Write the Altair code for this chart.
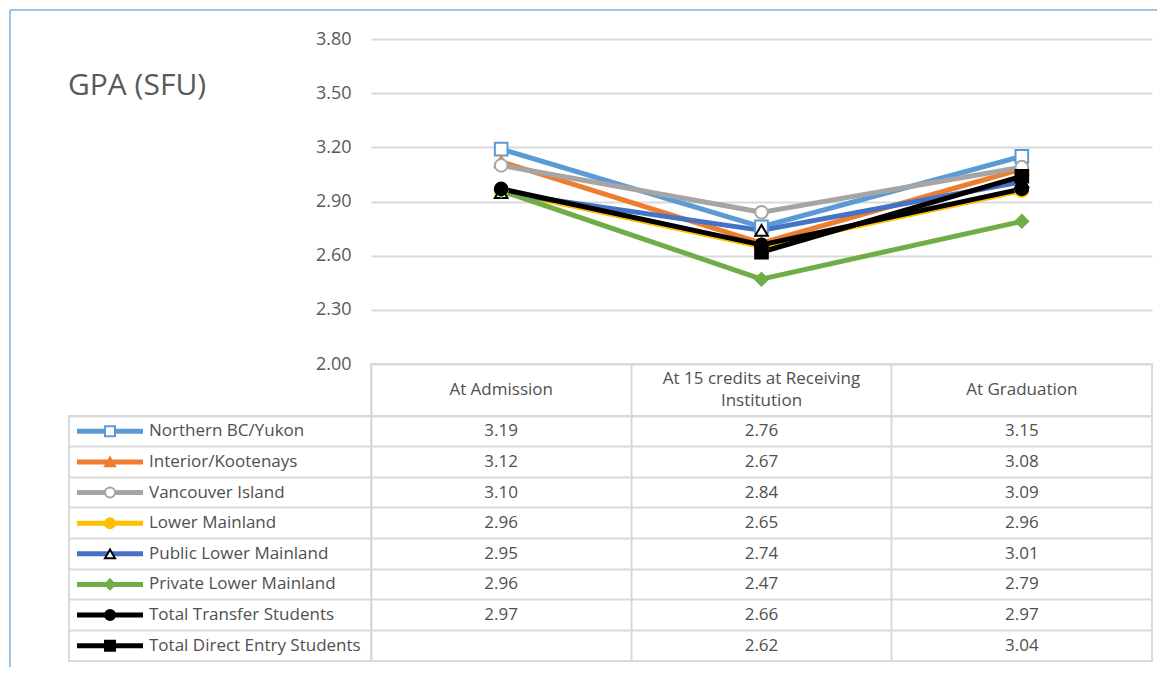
import altair as alt
import pandas as pd

# ---- data ----
categories = ["At Admission", "At 15 credits at Receiving Institution", "At Graduation"]
header_labels = ["At Admission", "At 15 credits at Receiving\nInstitution", "At Graduation"]
header_lines = [1, 2, 1]
series = [
    "Northern BC/Yukon",
    "Interior/Kootenays",
    "Vancouver Island",
    "Lower Mainland",
    "Public Lower Mainland",
    "Private Lower Mainland",
    "Total Transfer Students",
    "Total Direct Entry Students",
]
northern = [3.19, 2.76, 3.15]
interior = [3.12, 2.67, 3.08]
vancouver_island = [3.10, 2.84, 3.09]
lower_mainland = [2.96, 2.65, 2.96]
public_lm = [2.95, 2.74, 3.01]
private_lm = [2.96, 2.47, 2.79]
total_transfer = [2.97, 2.66, 2.97]
total_direct = [None, 2.62, 3.04]
values = [northern, interior, vancouver_island, lower_mainland, public_lm,
          private_lm, total_transfer, total_direct]

line_colors = ["#5B9BD5", "#ED7D31", "#A5A5A5", "#FFC000", "#4472C4", "#70AD47", "#000000", "#000000"]
marker_fill = ["#FFFFFF", "#ED7D31", "#FFFFFF", "#FFC000", "#FFFFFF", "#70AD47", "#000000", "#000000"]
marker_stroke = ["#5B9BD5", "#ED7D31", "#A5A5A5", "#FFC000", "#000000", "#70AD47", "#000000", "#000000"]
marker_shape = ["square", "triangle-up", "circle", "circle", "triangle-up", "diamond", "circle", "square"]

rows = []
for si, s in enumerate(series):
    for ci, c in enumerate(categories):
        v = values[si][ci]
        rows.append({"series": s, "cat": c, "value": v,
                     "label": "" if v is None else f"{v:.2f}", "order": si})
df = pd.DataFrame(rows)
plot_df = df[df["value"].notna()].copy()
header_df = pd.DataFrame({"cat": categories, "head": header_labels, "lines": header_lines})
legend_df = pd.DataFrame({"series": series})

GRID = "#D9D9D9"
TXT = "#505050"
AX = "#595959"
FONT = "Open Sans"
FS = 17

color_scale = alt.Scale(domain=series, range=line_colors)
fill_scale = alt.Scale(domain=series, range=marker_fill)
stroke_scale = alt.Scale(domain=series, range=marker_stroke)
shape_scale = alt.Scale(domain=series, range=marker_shape)

no_view = alt.ViewBackground(stroke="transparent")

# ---- top-left cell: title + chart frame ----
title_cell = alt.layer(
    alt.Chart(pd.DataFrame({"t": ["GPA (SFU)"]})).mark_text(
        align="left", baseline="middle", fontSize=30, font=FONT, color=AX
    ).encode(x=alt.value(-1), y=alt.value(47), text="t:N"),
    alt.Chart(pd.DataFrame({"t": [1]})).mark_rule(color="#9DC3E6", strokeWidth=2).encode(
        x=alt.value(-59), x2=alt.value(1088), y=alt.value(-29)),
    alt.Chart(pd.DataFrame({"t": [1]})).mark_rule(color="#9DC3E6", strokeWidth=2).encode(
        x=alt.value(-59), y=alt.value(-29), y2=alt.value(628)),
).properties(width=302, height=325, view=no_view)

# ---- line chart ----
xs = alt.X("cat:N", sort=categories, scale=alt.Scale(domain=categories, type="point", padding=0.5), axis=None)
ys = alt.Y("value:Q", scale=alt.Scale(domain=[2.0, 3.8], nice=False, zero=False),
           axis=alt.Axis(values=[2.0, 2.3, 2.6, 2.9, 3.2, 3.5, 3.8], format=".2f", title=None,
                         domain=False, ticks=False, labelPadding=20, labelFontSize=18,
                         labelFont=FONT, labelColor=AX, gridColor=GRID, gridWidth=2))
lines = alt.Chart(plot_df).mark_line(strokeWidth=5, strokeJoin="round", strokeCap="round").encode(
    x=xs, y=ys,
    color=alt.Color("series:N", scale=color_scale, legend=None),
    detail="series:N",
    order="order:Q",
)
points = alt.Chart(plot_df).mark_point(size=160, strokeWidth=2, opacity=1, filled=False).encode(
    x=xs, y=ys,
    shape=alt.Shape("series:N", scale=shape_scale, legend=None),
    fill=alt.Fill("series:N", scale=fill_scale, legend=None),
    stroke=alt.Stroke("series:N", scale=stroke_scale, legend=None),
    order="order:Q",
)
line_chart = alt.layer(lines, points).properties(width=781, height=325, view=no_view)

# ---- header row ----
empty_cell = alt.Chart(pd.DataFrame({"t": [""]})).mark_text().encode(
    x=alt.value(0), y=alt.value(0), text="t:N").properties(width=302, height=52, view=no_view)

band_x = alt.X("cat:N", sort=categories,
               scale=alt.Scale(domain=categories, type="band", paddingInner=0, paddingOuter=0),
               axis=alt.Axis(grid=True, bandPosition=0, labels=False, ticks=False, domain=False,
                             title=None, gridColor=GRID, gridWidth=2))
header_one = alt.Chart(header_df).transform_filter("datum.lines == 1").mark_text(
    fontSize=FS, font=FONT, color=TXT, baseline="middle"
).encode(x=band_x, text="head:N")
header_two = alt.Chart(header_df).transform_filter("datum.lines == 2").mark_text(
    fontSize=FS, font=FONT, color=TXT, lineBreak="\n", lineHeight=22, baseline="middle", dy=-11
).encode(x=band_x, text="head:N")
header = alt.layer(header_one, header_two).properties(width=781, height=52)

# ---- table rows ----
band_y = alt.Y("series:N", sort=series,
               scale=alt.Scale(domain=series, type="band", paddingInner=0, paddingOuter=0),
               axis=alt.Axis(grid=True, bandPosition=0, labels=False, ticks=False, domain=False,
                             title=None, gridColor=GRID, gridWidth=2))

legend_keys = alt.Chart(legend_df).mark_rule(strokeWidth=5).encode(
    x=alt.value(8), x2=alt.value(74), y=band_y,
    color=alt.Color("series:N", scale=color_scale, legend=None))
legend_marks = alt.Chart(legend_df).mark_point(size=100, strokeWidth=2, opacity=1).encode(
    x=alt.value(41), y=band_y,
    shape=alt.Shape("series:N", scale=shape_scale, legend=None),
    fill=alt.Fill("series:N", scale=fill_scale, legend=None),
    stroke=alt.Stroke("series:N", scale=stroke_scale, legend=None))
legend_text = alt.Chart(legend_df).mark_text(
    align="left", baseline="middle", fontSize=FS, font=FONT, color=TXT
).encode(x=alt.value(80), y=band_y, text="series:N")
legend_col = alt.layer(legend_keys, legend_marks, legend_text).properties(width=302, height=245)

table = alt.Chart(df).mark_text(fontSize=FS, font=FONT, color=TXT, baseline="middle").encode(
    x=band_x, y=band_y, text="label:N").properties(width=781, height=245)

chart = alt.concat(
    title_cell, line_chart, empty_cell, header, legend_col, table,
    columns=2, spacing=0, bounds="flush",
).properties(
    padding={"left": 0, "top": 0, "right": 0, "bottom": 0}
).configure_view(stroke=GRID, strokeWidth=2)

chart.save("out.html", embed_options={"renderer": "svg", "actions": False})
